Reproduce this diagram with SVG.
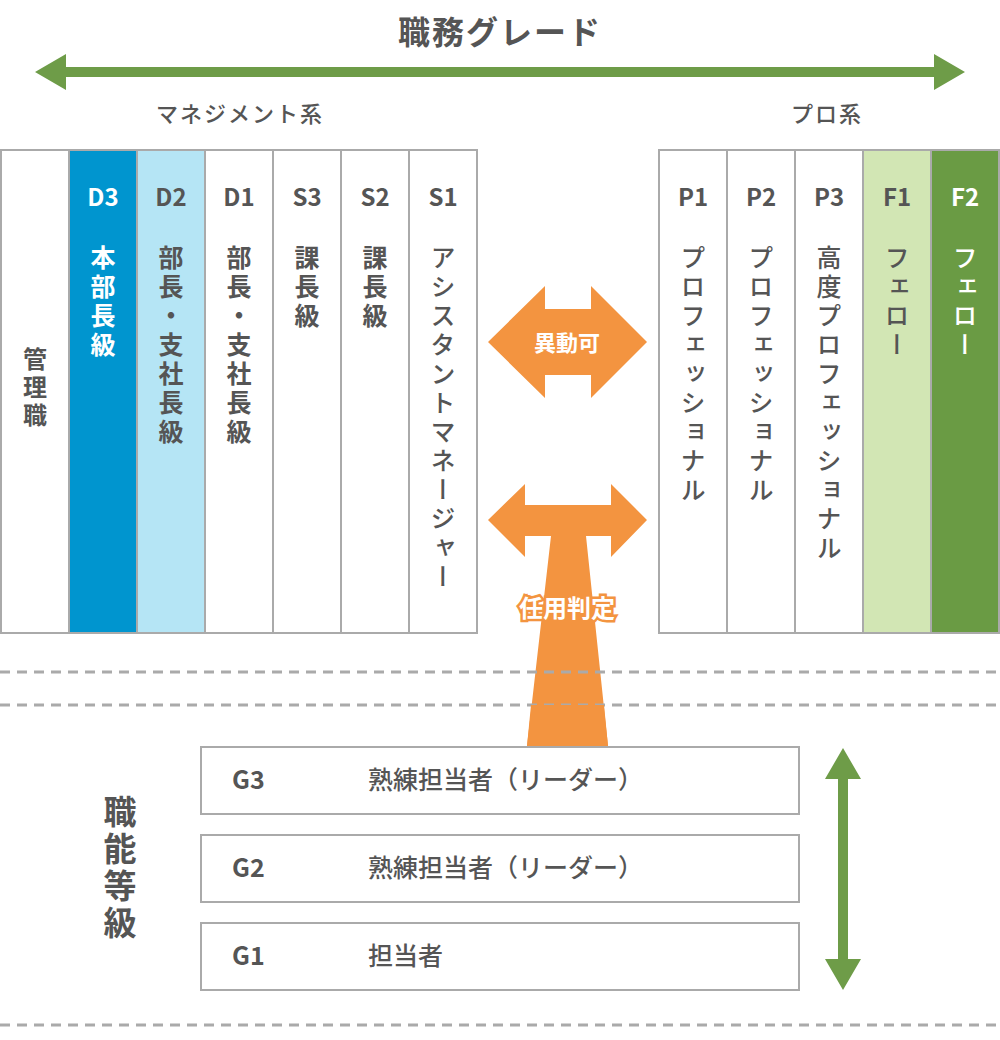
<svg xmlns="http://www.w3.org/2000/svg" width="1000" height="1040" viewBox="0 0 1000 1040">
<style>
text{font-family:"Noto Sans CJK JP","Noto Sans",sans-serif;font-weight:bold;fill:#555}
.col{stroke:#aaa;stroke-width:2;fill:#fff}
.code{font-size:24px;text-anchor:middle}
.v{font-size:25px;text-anchor:start;writing-mode:vertical-rl;letter-spacing:4px}
.dash{stroke:#aaa;stroke-width:3;stroke-dasharray:10 7;fill:none}
.g{fill:#fff;stroke:#aaa;stroke-width:2}
.gt{font-size:25px}
</style>
<text x="500" y="44" font-size="32" text-anchor="middle" style="letter-spacing:2px">職務グレード</text>
<text x="240" y="122" font-size="22" text-anchor="middle" style="font-weight:500;letter-spacing:2px">マネジメント系</text>
<text x="827" y="122" font-size="22" text-anchor="middle" style="font-weight:500;letter-spacing:2px">プロ系</text>
<g id="connectors">
<polygon fill="#6e9c48" points="35,72 66,54 66,67 934,67 934,54 965,72 934,90 934,77 66,77 66,90"/>
<polygon fill="#6e9c48" points="843,748 861,779 848,779 848,959 861,959 843,990 825,959 838,959 838,779 825,779"/>
<polygon fill="#f39440" points="488,342 545,286 545,309 591,309 591,286 647,342 591,398 591,375 545,375 545,398"/>
<polygon fill="#f39440" points="488,520 525,484 525,505 611,505 611,484 647,520 611,557 611,536 586,536 608,746 527,746 551,536 525,536 525,557"/>
</g>
<g id="kanri"><rect class="col" x="1" y="150" width="68" height="483"/><text class="v" x="35" y="347" style="font-size:24px">管理職</text></g>
<g id="D3"><rect class="col" x="69" y="150" width="68" height="483" style="fill:#0095cf"/><text class="code" x="103" y="206" style="fill:#fff">D3</text><text class="v" x="103" y="245" style="fill:#fff">本部長級</text></g>
<g id="D2"><rect class="col" x="137" y="150" width="68" height="483" style="fill:#b5e5f5"/><text class="code" x="171" y="206">D2</text><text class="v" x="171" y="245">部長・支社長級</text></g>
<g id="D1"><rect class="col" x="205" y="150" width="68" height="483"/><text class="code" x="239" y="206">D1</text><text class="v" x="239" y="245">部長・支社長級</text></g>
<g id="S3"><rect class="col" x="273" y="150" width="68" height="483"/><text class="code" x="307" y="206">S3</text><text class="v" x="307" y="245">課長級</text></g>
<g id="S2"><rect class="col" x="341" y="150" width="68" height="483"/><text class="code" x="375" y="206">S2</text><text class="v" x="375" y="245">課長級</text></g>
<g id="S1"><rect class="col" x="409" y="150" width="68" height="483"/><text class="code" x="443" y="206">S1</text><text class="v" x="443" y="245" style="font-weight:500">アシスタントマネージャー</text></g>
<g id="P1"><rect class="col" x="659" y="150" width="68" height="483"/><text class="code" x="693" y="206">P1</text><text class="v" x="693" y="245" style="font-weight:500">プロフェッショナル</text></g>
<g id="P2"><rect class="col" x="727" y="150" width="68" height="483"/><text class="code" x="761" y="206">P2</text><text class="v" x="761" y="245" style="font-weight:500">プロフェッショナル</text></g>
<g id="P3"><rect class="col" x="795" y="150" width="68" height="483"/><text class="code" x="829" y="206">P3</text><text class="v" x="829" y="245" style="font-weight:500">高度プロフェッショナル</text></g>
<g id="F1"><rect class="col" x="863" y="150" width="68" height="483" style="fill:#d2e6b4"/><text class="code" x="897" y="206">F1</text><text class="v" x="897" y="245" style="font-weight:500">フェロー</text></g>
<g id="F2"><rect class="col" x="931" y="150" width="68" height="483" style="fill:#6a9b44"/><text class="code" x="965" y="206" style="fill:#fff">F2</text><text class="v" x="965" y="245" style="fill:#fff;font-weight:500">フェロー</text></g>
<text x="567" y="351" font-size="22" text-anchor="middle" style="fill:#fff">異動可</text>
<text x="567" y="617" font-size="24" text-anchor="middle" style="fill:#fff;stroke:#f39440;stroke-width:5;paint-order:stroke">任用判定</text>
<line class="dash" x1="0" y1="672" x2="1000" y2="672"/>
<line class="dash" x1="0" y1="705" x2="1000" y2="705"/>
<line class="dash" x1="0" y1="1025" x2="1000" y2="1025"/>
<polygon fill="#f39440" points="531,705 604,705 608,746 527,746"/>
<g id="G3"><rect class="g" x="201" y="747" width="598" height="67"/><text class="gt" x="232" y="789">G3</text><text class="gt" x="368" y="789" style="font-weight:500">熟練担当者（リーダー）</text></g>
<g id="G2"><rect class="g" x="201" y="835" width="598" height="67"/><text class="gt" x="232" y="877">G2</text><text class="gt" x="368" y="877" style="font-weight:500">熟練担当者（リーダー）</text></g>
<g id="G1"><rect class="g" x="201" y="923" width="598" height="67"/><text class="gt" x="232" y="965">G1</text><text class="gt" x="368" y="965" style="font-weight:500">担当者</text></g>
<text class="v" x="120" y="795" style="font-size:33px;letter-spacing:4px">職能等級</text>
</svg>
